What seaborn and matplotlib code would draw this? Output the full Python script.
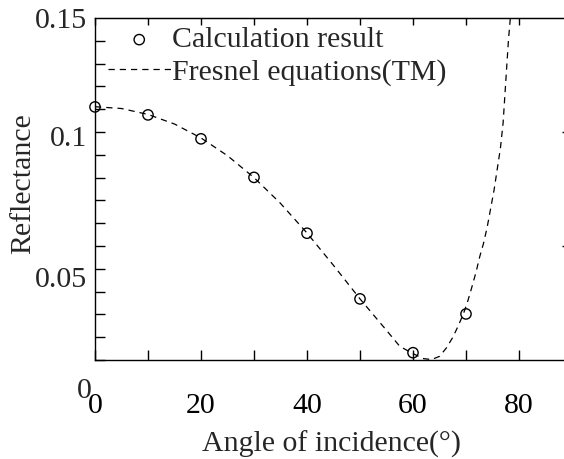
import numpy as np
import pandas as pd
import matplotlib
matplotlib.use("Agg")
import matplotlib.pyplot as plt
import seaborn as sns

# ---- data ----
angle_calc = [0, 10, 20, 30, 40, 50, 60, 70]
refl_calc = [0.1110, 0.1075, 0.0970, 0.0801, 0.0556, 0.0268, 0.0032, 0.0202]

angle_fresnel = [0, 5, 10, 15, 20, 25, 30, 35, 40, 45, 50, 55, 57.5, 60, 62,
                 63.5, 65, 66.3, 67.5, 68.5, 69.5, 70.2, 71, 71.9, 72.6, 73.3,
                 74, 75.3, 76.5, 77.0, 77.5, 78.0, 78.8]
refl_fresnel = [0.1111, 0.1103, 0.1077, 0.1035, 0.0974, 0.0896, 0.0800, 0.0687,
                0.0557, 0.0415, 0.0268, 0.0130, 0.0060, 0.0028, 0.0006,
                0.0002, 0.0016, 0.0053, 0.0099, 0.0148, 0.0202, 0.0248, 0.0311,
                0.0386, 0.0454, 0.0511, 0.0583, 0.0746, 0.0930, 0.1040, 0.1220,
                0.1400, 0.1620]

x_tick_values = [0, 10, 20, 30, 40, 50, 60, 70, 80]
x_tick_labels = ["0", "", "20", "", "40", "", "60", "", "80"]
y_label_values = [0.15, 0.0982, 0.0364]
y_label_texts = ["0.15", "0.1", "0.05"]
right_tick_values = [0.05, 0.1]

label_calc = "Calculation result"
label_fresnel = "Fresnel equations(TM)"

# ---- style ----
sns.set_style("white")
plt.rcParams['font.family'] = ['Liberation Serif', 'DejaVu Serif']
fs = 21.5

W, H = 564, 459
fig = plt.figure(figsize=(W / 100, H / 100), dpi=100)
ax = fig.add_axes([95 / W, 99 / H, 477 / W, 342 / H])

df_curve = pd.DataFrame({"angle": angle_fresnel, "R": refl_fresnel})
df_calc = pd.DataFrame({"angle": angle_calc, "R": refl_calc})

sns.lineplot(data=df_curve, x="angle", y="R", ax=ax, color="black",
             linewidth=0.9, linestyle=(0, (5, 4)), sort=False,
             label=label_fresnel)
sns.scatterplot(data=df_calc, x="angle", y="R", ax=ax, marker="o", s=55,
                facecolor="none", edgecolor="black", linewidth=1.0,
                clip_on=False, zorder=5, label=label_calc)

ax.set_xlim(0, 90)
ax.set_ylim(0, 0.15)

for sp in ax.spines.values():
    sp.set_visible(True)
    sp.set_color("black")
    sp.set_linewidth(1.0)

ax.set_xticks(x_tick_values)
ax.set_xticklabels(x_tick_labels, fontsize=fs)
ax.tick_params(axis="x", direction="in", length=7.2, width=1.0, pad=24,
               colors="black", bottom=True, top=False)

ax.set_yticks(y_label_values)
ax.set_yticklabels(y_label_texts, fontsize=fs)
ax.tick_params(axis="y", which="major", length=0, pad=6, left=True,
               right=False)
ax.set_yticks(np.arange(0, 0.1501, 0.01), minor=True)
ax.tick_params(axis="y", which="minor", direction="in", length=7.2,
               width=1.0, left=True, right=False, colors="black")

top = ax.secondary_xaxis("top")
top.set_xticks(x_tick_values)
top.set_xticklabels([])
top.tick_params(direction="in", length=5, width=1.0, colors="black")

right = ax.secondary_yaxis("right")
right.set_yticks(right_tick_values)
right.set_yticklabels([])
right.tick_params(direction="in", length=7.2, width=1.0, colors="black")

fig.text(84 / W, 1 - 391 / H, "0", ha="center", va="center", fontsize=fs)

ax.set_xlabel("Angle of incidence(°)", fontsize=fs)
ax.xaxis.label.set_va("center")
ax.xaxis.set_label_coords((332 - 95) / 477, (360 - 444) / 342)
ax.set_ylabel("Reflectance", fontsize=fs)
ax.yaxis.label.set_va("center")
ax.yaxis.set_label_coords((23 - 95) / 477, (360 - 184) / 342)

h, l = ax.get_legend_handles_labels()
hd = dict(zip(l, h))
ax.legend([hd[label_calc], hd[label_fresnel]], [label_calc, label_fresnel],
          loc="upper left", bbox_to_anchor=(0.027, 0.975), frameon=False,
          fontsize=fs, handlelength=2.1, handletextpad=0.05,
          labelspacing=0.18, borderpad=0, borderaxespad=0)

fig.savefig("out.png", dpi=100)
